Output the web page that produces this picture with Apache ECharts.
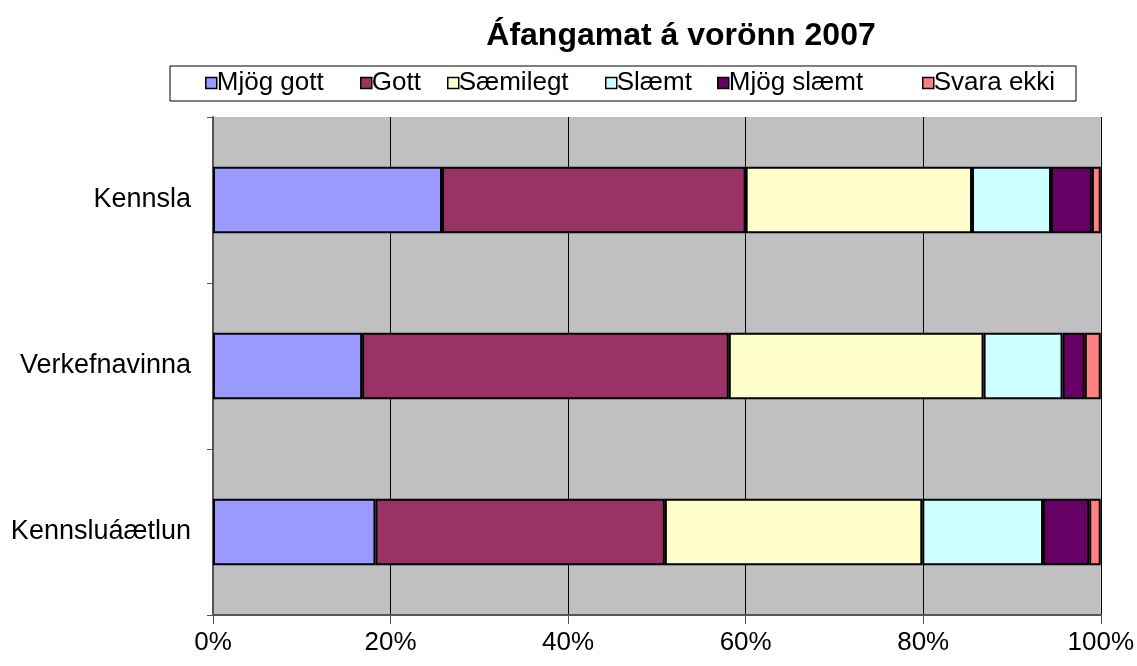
<!DOCTYPE html>
<html>
<head>
<meta charset="utf-8">
<script src="https://cdn.jsdelivr.net/npm/echarts@6/dist/echarts.min.js"></script>
<style>html,body{margin:0;padding:0;background:#fff;}#c{width:1137px;height:666px;}</style>
</head>
<body>
<div id="c"></div>
<script>
const categories = ['Kennsla', 'Verkefnavinna', 'Kennsluáætlun'];
const seriesNames = ['Mjög gott', 'Gott', 'Sæmilegt', 'Slæmt', 'Mjög slæmt', 'Svara ekki'];
const mjogGott  = [25.8, 16.8, 18.3];
const gott      = [34.2, 41.3, 32.6];
const saemilegt = [25.5, 28.7, 29.0];
const slaemt    = [8.9, 8.9, 13.6];
const mjogSlaemt= [4.6, 2.5, 5.2];
const svaraEkki = [1.0, 1.8, 1.3];
const xTicks = [0, 20, 40, 60, 80, 100];

const seriesValues = [mjogGott, gott, saemilegt, slaemt, mjogSlaemt, svaraEkki];
const colors = ['#9999FF', '#993366', '#FFFFCC', '#CCFFFF', '#660066', '#FF8080'];
const legendLefts = [205, 360, 447, 605, 717, 922];
const FONT = '"Liberation Sans", Arial, sans-serif';

const chart = echarts.init(document.getElementById('c'));
chart.setOption({
  animation: false,
  backgroundColor: '#fff',
  title: {
    text: 'Áfangamat á vorönn 2007',
    left: 681, top: 20, padding: 0, textAlign: 'center',
    textStyle: { fontFamily: FONT, fontSize: 32, fontWeight: 'bold', color: '#000' }
  },
  graphic: [{
    type: 'rect', z: 0,
    shape: { x: 170, y: 66, width: 906, height: 35 },
    style: { fill: '#fff', stroke: '#000', lineWidth: 1 }
  }],
  legend: seriesNames.map((n, i) => ({
    data: [n], left: legendLefts[i], top: 70, padding: 0,
    orient: 'horizontal', icon: 'rect', itemWidth: 11, itemHeight: 11, itemGap: 0,
    textStyle: { fontFamily: FONT, fontSize: 26, color: '#000', padding: [0, 0, 0, -5] },
    itemStyle: { borderColor: '#000', borderWidth: 1.5 },
    z: 5
  })),
  grid: {
    left: 213, right: 35, top: 117, bottom: 51,
    show: true, backgroundColor: '#C0C0C0', borderWidth: 0
  },
  xAxis: {
    type: 'value', min: xTicks[0], max: xTicks[xTicks.length - 1], interval: 20,
    axisLine: { show: true, lineStyle: { color: '#555', width: 2 } },
    axisTick: { show: true, length: 9, lineStyle: { color: '#555' } },
    axisLabel: { formatter: '{value}%', fontFamily: FONT, fontSize: 26, color: '#000', margin: 15 },
    splitLine: { show: true, lineStyle: { color: '#000', width: 1 } }
  },
  yAxis: {
    type: 'category', inverse: true, data: categories,
    axisLine: { show: true, lineStyle: { color: '#555', width: 2 } },
    axisTick: { show: true, length: 6, inside: false, lineStyle: { color: '#555' } },
    axisLabel: { fontFamily: FONT, fontSize: 27, color: '#000', margin: 22 },
    splitLine: { show: false }
  },
  series: seriesNames.map((n, i) => ({
    name: n, type: 'bar', stack: 'total', barWidth: '40%',
    data: seriesValues[i],
    itemStyle: { color: colors[i], borderColor: '#000', borderWidth: 2 }
  }))
});
</script>
</body>
</html>
